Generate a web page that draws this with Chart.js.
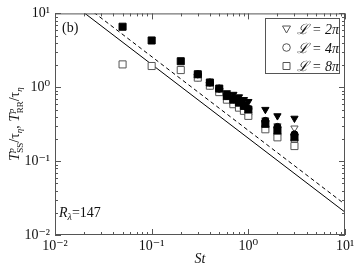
<!DOCTYPE html>
<html>
<head>
<meta charset="utf-8">
<script src="https://cdn.jsdelivr.net/npm/chart.js@4.4.1/dist/chart.umd.min.js"></script>
<style>
  html, body { margin: 0; padding: 0; background: #fff; }
  #wrap { width: 360px; height: 269px; position: relative; }
</style>
</head>
<body>
<div id="wrap"><canvas id="chart"></canvas></div>
<script>
// tick values / labels
const decades = [0.01, 0.1, 1, 10];
const decadeLabels = ['10\u207B\u00B2', '10\u207B\u00B9', '10\u2070', '10\u00B9'];

// Stokes numbers
const stAll = [0.05, 0.1, 0.2, 0.3, 0.4, 0.5, 0.6, 0.7, 0.8, 0.9, 1.0, 1.5, 2, 3];
const stL4 = [0.3, 0.4, 0.5, 0.6, 0.7, 0.8, 0.9, 1.0, 1.5, 2, 3];
const stL2 = [0.6, 0.7, 0.8, 0.9, 1.0, 1.5, 2, 3];

// T_SS (filled) and T_RR (open)
const ssL2 = [0.84, 0.80, 0.74, 0.68, 0.64, 0.50, 0.41, 0.38];
const rrL2 = [0.70, 0.64, 0.58, 0.54, 0.50, 0.36, 0.30, 0.28];
const ssL4 = [1.5, 1.16, 0.96, 0.77, 0.69, 0.63, 0.57, 0.51, 0.35, 0.29, 0.23];
const rrL4 = [1.36, 1.06, 0.87, 0.69, 0.60, 0.54, 0.49, 0.43, 0.29, 0.23, 0.19];
const ssL8 = [6.6, 4.3, 2.25, 1.5, 1.16, 0.96, 0.76, 0.68, 0.62, 0.56, 0.50, 0.32, 0.26, 0.21];
const rrL8 = [2.04, 1.94, 1.71, 1.35, 1.05, 0.86, 0.68, 0.59, 0.53, 0.48, 0.41, 0.27, 0.21, 0.16];

// reference lines ~ 1/St
const lineSt = [0.01, 10];
const solidRef = [20.4, 0.0204];
const dashedRef = [26, 0.026];

const legendLabels = ['\u2112 = 2\u03C0', '\u2112 = 4\u03C0', '\u2112 = 8\u03C0'];

const SERIF = "'Liberation Serif', 'DejaVu Serif', serif";
const GREY = '#555';

const pts = (xs, ys) => xs.map((x, i) => ({ x: x, y: ys[i] }));
const radius = { rect: 5, circle: 3.6, triangle: 4.2 };

const filled = (label, xs, ys, style, rot) => ({
  label: label,
  data: pts(xs, ys),
  pointStyle: style,
  rotation: rot || 0,
  pointRadius: radius[style],
  backgroundColor: '#000',
  borderColor: '#000',
  borderWidth: 1,
  showLine: false,
});
const open = (label, xs, ys, style, rot) => ({
  label: label,
  data: pts(xs, ys),
  pointStyle: style,
  rotation: rot || 0,
  pointRadius: radius[style],
  backgroundColor: '#fff',
  borderColor: GREY,
  borderWidth: 1,
  showLine: false,
});

// small helper for text with sub/superscripts
const richWidth = (ctx, parts) => {
  let w = 0;
  parts.forEach((p) => {
    ctx.font = p.font;
    const pw = ctx.measureText(p.t).width;
    if (!p.stack) w += pw;
  });
  return w;
};
const drawRich = (ctx, parts, x, y) => {
  let cx = x;
  parts.forEach((p) => {
    ctx.font = p.font;
    ctx.fillText(p.t, cx, y + (p.dy || 0));
    if (!p.stack) cx += ctx.measureText(p.t).width;
  });
};

const it = (s) => 'italic ' + s + 'px ' + SERIF;
const rm = (s) => s + 'px ' + SERIF;

const decor = {
  id: 'decor',
  afterDraw(chart) {
    const ctx = chart.ctx;
    const a = chart.chartArea;
    const xs = chart.scales.x;
    const ys = chart.scales.y;
    ctx.save();

    // frame
    ctx.strokeStyle = GREY;
    ctx.lineWidth = 1;
    ctx.strokeRect(a.left + 0.5, a.top + 0.5, a.right - a.left - 1, a.bottom - a.top - 1);

    // inward ticks, all four sides
    ctx.beginPath();
    decades.forEach((d, k) => {
      const mults = k < decades.length - 1 ? [1, 2, 3, 4, 5, 6, 7, 8, 9] : [1];
      mults.forEach((m) => {
        const v = d * m;
        const len = m === 1 ? 6 : 3;
        const px = Math.round(xs.getPixelForValue(v)) + 0.5;
        ctx.moveTo(px, a.bottom); ctx.lineTo(px, a.bottom - len);
        ctx.moveTo(px, a.top); ctx.lineTo(px, a.top + len);
        const py = Math.round(ys.getPixelForValue(v)) + 0.5;
        ctx.moveTo(a.left, py); ctx.lineTo(a.left + len, py);
        ctx.moveTo(a.right, py); ctx.lineTo(a.right - len, py);
      });
    });
    ctx.stroke();

    ctx.fillStyle = '#111';
    ctx.textBaseline = 'alphabetic';
    ctx.textAlign = 'left';

    // panel label
    ctx.font = rm(14);
    ctx.fillText('(b)', a.left + 7, a.top + 19);

    // Reynolds number
    drawRich(ctx, [
      { t: 'R', font: it(14) },
      { t: '\u03BB', font: it(10), dy: 3 },
      { t: '=147', font: rm(14) },
    ], a.left + 4, a.bottom - 18);

    // legend
    const lx = 265.5, ly = 18.5, lw = 74, lh = 55;
    ctx.fillStyle = '#fff';
    ctx.fillRect(lx, ly, lw, lh);
    ctx.strokeStyle = GREY;
    ctx.strokeRect(lx, ly, lw, lh);
    const styles = ['tri', 'circ', 'rect'];
    legendLabels.forEach((lab, i) => {
      const cy = ly + 10.5 + i * 18.5;
      const mx = lx + 21;
      ctx.strokeStyle = GREY;
      ctx.beginPath();
      if (styles[i] === 'tri') {
        ctx.moveTo(mx - 4, cy - 3); ctx.lineTo(mx + 4, cy - 3); ctx.lineTo(mx, cy + 4); ctx.closePath();
      } else if (styles[i] === 'circ') {
        ctx.arc(mx, cy, 3.8, 0, Math.PI * 2);
      } else {
        ctx.rect(mx - 3.5, cy - 3.5, 7, 7);
      }
      ctx.stroke();
      ctx.fillStyle = '#111';
      ctx.font = it(14);
      ctx.fillText(lab, lx + 31, cy + 5);
    });

    // y-axis title (rotated)
    const sup = { font: it(9), dy: -5, stack: true };
    const parts = [
      { t: 'T', font: it(15) },
      Object.assign({ t: 'p' }, sup),
      { t: 'SS', font: rm(9), dy: 4 },
      { t: '/\u03C4', font: rm(14) },
      { t: '\u03B7', font: it(9), dy: 3 },
      { t: ', ', font: rm(14) },
      { t: 'T', font: it(15) },
      Object.assign({ t: 'p' }, sup),
      { t: 'RR', font: rm(9), dy: 4 },
      { t: '/\u03C4', font: rm(14) },
      { t: '\u03B7', font: it(9), dy: 3 },
    ];
    ctx.translate(19, (a.top + a.bottom) / 2);
    ctx.rotate(-Math.PI / 2);
    ctx.fillStyle = '#111';
    const w = richWidth(ctx, parts);
    drawRich(ctx, parts, -w / 2, 0);

    ctx.restore();
  },
};

new Chart(document.getElementById('chart'), {
  type: 'scatter',
  data: {
    datasets: [
      filled('SS 8pi', stAll, ssL8, 'rect'),
      filled('SS 4pi', stL4, ssL4, 'circle'),
      filled('SS 2pi', stL2, ssL2, 'triangle', 180),
      open('RR 8pi', stAll, rrL8, 'rect'),
      open('RR 4pi', stL4, rrL4, 'circle'),
      open('RR 2pi', stL2, rrL2, 'triangle', 180),
      {
        label: 'solid',
        data: pts(lineSt, solidRef),
        showLine: true,
        pointRadius: 0,
        borderColor: '#000',
        borderWidth: 1,
      },
      {
        label: 'dashed',
        data: pts(lineSt, dashedRef),
        showLine: true,
        pointRadius: 0,
        borderColor: '#000',
        borderWidth: 1,
        borderDash: [4, 3],
      },
    ],
  },
  options: {
    responsive: true,
    maintainAspectRatio: false,
    animation: false,
    events: [],
    layout: { padding: { top: 9, right: 15, left: 0, bottom: 0 } },
    plugins: { legend: { display: false }, tooltip: { enabled: false } },
    scales: {
      x: {
        type: 'logarithmic',
        min: 0.01,
        max: 10,
        afterBuildTicks: (s) => { s.ticks = decades.map((v) => ({ value: v })); },
        afterFit: (s) => { s.height = 34; },
        grid: { display: false, drawTicks: false },
        border: { display: false },
        ticks: {
          autoSkip: false,
          maxRotation: 0,
          padding: 3,
          color: '#111',
          font: { family: SERIF, size: 14 },
          callback: (v) => decadeLabels[decades.indexOf(v)],
        },
        title: {
          display: true,
          text: 'St',
          color: '#111',
          font: { family: SERIF, size: 14, style: 'italic' },
          padding: { top: 0, bottom: 1 },
        },
      },
      y: {
        type: 'logarithmic',
        min: 0.01,
        max: 10,
        afterBuildTicks: (s) => { s.ticks = decades.map((v) => ({ value: v })); },
        afterFit: (s) => { s.width = 55; },
        grid: { display: false, drawTicks: false },
        border: { display: false },
        ticks: {
          autoSkip: false,
          padding: 5,
          color: '#111',
          font: { family: SERIF, size: 14 },
          callback: (v) => decadeLabels[decades.indexOf(v)],
        },
      },
    },
  },
  plugins: [decor],
});
</script>
</body>
</html>
